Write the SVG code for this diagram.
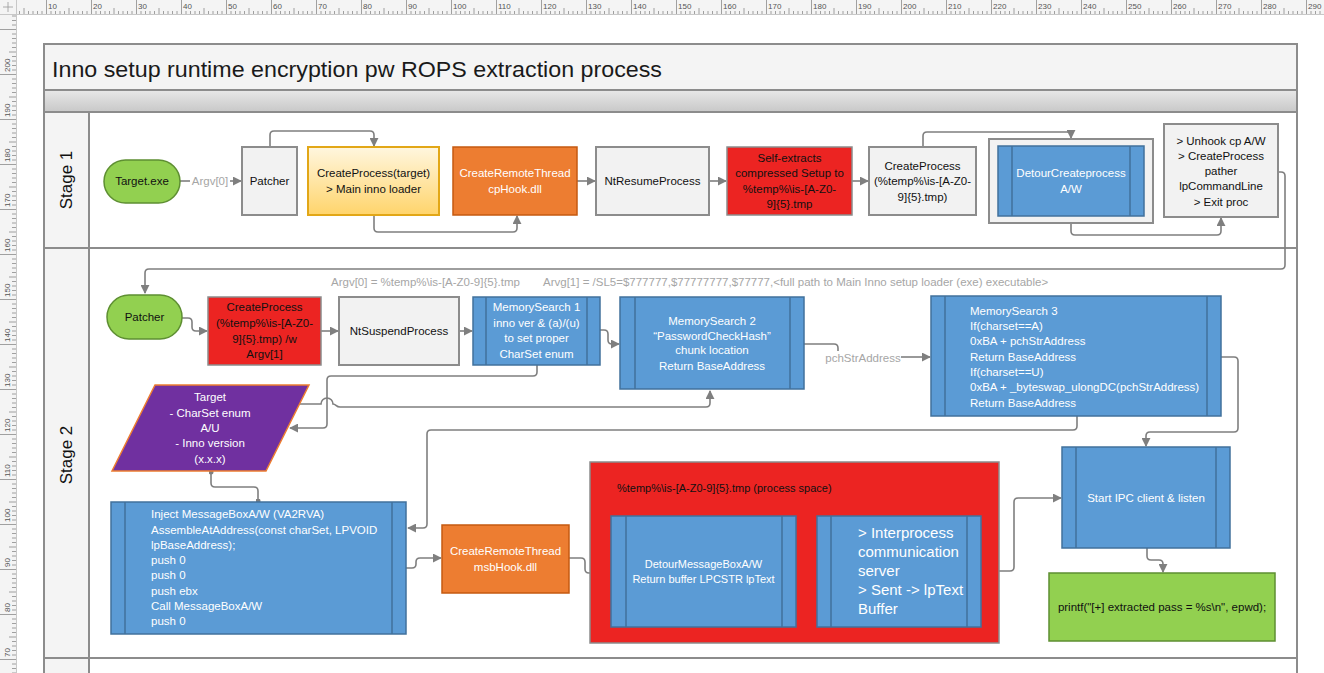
<svg xmlns="http://www.w3.org/2000/svg" width="1324" height="673" viewBox="0 0 1324 673">
<defs>
<style>
.t{font-family:"Liberation Sans",Arial,sans-serif;font-size:11.5px;}
.c{text-anchor:middle;}
.w{fill:#ffffff;}
.k{fill:#111111;}
.g{fill:#a6a6a6;}
.gray{fill:#f2f2f2;stroke:#8c8c8c;stroke-width:2;}
.blue{fill:#5b9bd5;stroke:#41719c;stroke-width:1.5;}
.inner{stroke:#41719c;stroke-width:1.5;fill:none;}
.orange{fill:#ed7d31;stroke:#c55a11;stroke-width:1.5;}
.red{fill:#ec2422;stroke:#8c8c8c;stroke-width:1.5;}
.green{fill:#92d050;stroke:#5e8f32;stroke-width:1.5;}
.lane{stroke:#8c8c8c;stroke-width:2;fill:none;}
.conn path{fill:none;stroke:#7f7f7f;stroke-width:1.6;}
.rl{font-family:"Liberation Sans",Arial,sans-serif;font-size:8px;fill:#555555;}
</style>
<marker id="ah" viewBox="0 0 10 10" refX="9" refY="5" markerWidth="9" markerHeight="9" markerUnits="userSpaceOnUse" orient="auto"><path d="M0,0 L10,5 L0,10 z" fill="#7f7f7f"/></marker>
<marker id="dot" viewBox="0 0 10 10" refX="5" refY="5" markerWidth="5" markerHeight="5" markerUnits="userSpaceOnUse"><circle cx="5" cy="5" r="5" fill="#7f7f7f"/></marker>
<linearGradient id="gold" x1="0" y1="0" x2="0" y2="1"><stop offset="0" stop-color="#fff6df"/><stop offset="1" stop-color="#ffd46b"/></linearGradient>
<linearGradient id="band" x1="0" y1="0" x2="0" y2="1"><stop offset="0" stop-color="#e8e8e8"/><stop offset="1" stop-color="#c8c8c8"/></linearGradient>
<pattern id="rtop" x="1" y="0" width="45" height="14" patternUnits="userSpaceOnUse"><path d="M0.5,0V14 M5,11V14 M9.5,11V14 M14,11V14 M18.5,11V14 M23,8V14 M27.5,11V14 M32,11V14 M36.5,11V14 M41,11V14" stroke="#8a8a8a" stroke-width="0.8"/></pattern>
<pattern id="rleft" x="0" y="29" width="16" height="45" patternUnits="userSpaceOnUse"><path d="M0,0.5H16 M12,5H16 M12,9.5H16 M12,14H16 M12,18.5H16 M9,23H16 M12,27.5H16 M12,32H16 M12,36.5H16 M12,41H16" stroke="#8a8a8a" stroke-width="0.8"/></pattern>
</defs>
<rect x="0" y="0" width="1324" height="673" fill="#ffffff"/>

<g id="rulers">
<rect x="0" y="0" width="1324" height="14" fill="#f4f4f4"/>
<rect x="16" y="0" width="1308" height="14" fill="url(#rtop)"/>
<rect x="0" y="14" width="16" height="659" fill="#f4f4f4"/>
<rect x="0" y="14" width="16" height="659" fill="url(#rleft)"/>
<line x1="0" y1="14.5" x2="1324" y2="14.5" stroke="#c8c8c8"/>
<line x1="16.5" y1="0" x2="16.5" y2="673" stroke="#c8c8c8"/>
<path d="M3,7H13 M8,2V12" stroke="#9a9a9a" stroke-width="0.8"/>
<g class="rl">
<text x="48" y="9">10</text><text x="93" y="9">20</text><text x="138" y="9">30</text><text x="183" y="9">40</text><text x="228" y="9">50</text><text x="273" y="9">60</text><text x="318" y="9">70</text><text x="363" y="9">80</text><text x="408" y="9">90</text><text x="453" y="9">100</text><text x="498" y="9">110</text><text x="543" y="9">120</text><text x="588" y="9">130</text><text x="633" y="9">140</text><text x="678" y="9">150</text><text x="723" y="9">160</text><text x="768" y="9">170</text><text x="813" y="9">180</text><text x="858" y="9">190</text><text x="903" y="9">200</text><text x="948" y="9">210</text><text x="993" y="9">220</text><text x="1038" y="9">230</text><text x="1083" y="9">240</text><text x="1128" y="9">250</text><text x="1173" y="9">260</text><text x="1218" y="9">270</text><text x="1263" y="9">280</text><text x="1308" y="9">290</text>
<text transform="translate(10,72) rotate(-90)">200</text><text transform="translate(10,117) rotate(-90)">190</text><text transform="translate(10,162) rotate(-90)">180</text><text transform="translate(10,207) rotate(-90)">170</text><text transform="translate(10,252) rotate(-90)">160</text><text transform="translate(10,297) rotate(-90)">150</text><text transform="translate(10,342) rotate(-90)">140</text><text transform="translate(10,387) rotate(-90)">130</text><text transform="translate(10,432) rotate(-90)">120</text><text transform="translate(10,477) rotate(-90)">110</text><text transform="translate(10,522) rotate(-90)">100</text><text transform="translate(10,567) rotate(-90)">90</text><text transform="translate(10,612) rotate(-90)">80</text><text transform="translate(10,657) rotate(-90)">70</text>
</g>
</g>

<g id="pool">
<rect x="44" y="44" width="1253" height="46" fill="#f4f4f4"/>
<rect x="44" y="90" width="1253" height="22" fill="url(#band)"/>
<rect x="44" y="112" width="45" height="561" fill="#f4f4f4"/>
<path class="lane" d="M44,673V44H1297V673 M44,90H1297 M44,112H1297 M44,248H1297 M44,658H1297 M89,112V673"/>
<text x="52" y="77" font-family="Liberation Sans, Arial, sans-serif" font-size="22" fill="#1a1a1a" textLength="610" lengthAdjust="spacingAndGlyphs">Inno setup runtime encryption pw ROPS extraction process</text>
<text class="t c k" transform="translate(72,180) rotate(-90)" font-size="17" style="font-size:17px">Stage 1</text>
<text class="t c k" transform="translate(72,455) rotate(-90)" style="font-size:17px">Stage 2</text>
</g>

<g id="connectors" class="conn">
<path d="M180,181H190"/>
<path d="M230,181H241" marker-end="url(#ah)"/>
<path d="M270,147V135q0,-4 4,-4H370q4,0 4,4V146" marker-end="url(#ah)"/>
<path d="M374,215V228q0,4 4,4H513q4,0 4,-4V216" marker-end="url(#ah)"/>
<path d="M577,181H595" marker-end="url(#ah)"/>
<path d="M709,181H726" marker-end="url(#ah)"/>
<path d="M852,181H868" marker-end="url(#ah)"/>
<path d="M923,147V136q0,-4 4,-4H1067q4,0 4,4V138" marker-end="url(#ah)"/>
<path d="M1071,216V231q0,4 4,4H1217q4,0 4,-4V218" marker-end="url(#ah)"/>
<path d="M1278,172H1281q4,0 4,4V265q0,4 -4,4H149q-4,0 -4,4V293" marker-end="url(#ah)"/>
<path d="M182,318H188q4,0 4,4V327q0,4 4,4H207" marker-end="url(#ah)"/>
<path d="M321,331H338" marker-end="url(#ah)"/>
<path d="M459,331H472" marker-end="url(#ah)"/>
<path d="M600,330H604q4,0 4,4V340q0,4 4,4H619" marker-end="url(#ah)"/>
<path d="M804,344H834q4,0 4,4V351"/>
<path d="M901,357H930" marker-end="url(#ah)"/>
<path d="M537,365V372q0,4 -4,4H331q-4,0 -4,4V424q0,4 -4,4H290" marker-end="url(#ah)"/>
<path d="M300,404H321a6,6 0 0 1 12,0C336,404 336,407 340,407H706q4,0 4,-4V391" marker-end="url(#ah)"/>
<path d="M1077,416V426q0,4 -4,4H431q-4,0 -4,4V524q0,4 -4,4H408" marker-end="url(#ah)"/>
<path d="M1221,357H1234q4,0 4,4V428q0,4 -4,4H1150q-4,0 -4,4V446" marker-end="url(#ah)"/>
<path d="M211,472V483q0,4 4,4H254q4,0 4,4V501" marker-start="url(#dot)" marker-end="url(#dot)"/>
<path d="M406,568H412q4,0 4,-4V562q0,-4 4,-4H441" marker-end="url(#ah)"/>
<path d="M569,558H581q4,0 4,4V569q0,4 4,4H610" marker-end="url(#ah)"/>
<path d="M796,572H816" marker-end="url(#ah)"/>
<path d="M981,571H1010q4,0 4,-4V502q0,-4 4,-4H1061" marker-end="url(#ah)"/>
<path d="M1147,548V556q0,4 4,4H1159q4,0 4,4V572" marker-end="url(#ah)"/>
</g>

<g id="edge-labels" class="t g">
<text x="210" y="185" class="c">Argv[0]</text>
<text x="331" y="286">Argv[0] = %temp%\is-[A-Z0-9]{5}.tmp</text>
<text x="543" y="286">Arvg[1] = /SL5=$777777,$77777777,$77777,&lt;full path to Main Inno setup loader (exe) executable&gt;</text>
<text x="863" y="362" class="c">pchStrAddress</text>
</g>

<g id="n-target-exe"><rect class="green" x="104" y="160" width="76" height="43" rx="21.5"/><text class="t c k" x="142" y="185">Target.exe</text></g>
<g id="n-patcher1"><rect class="gray" x="242" y="147" width="55" height="68"/><text class="t c k" x="269.5" y="185">Patcher</text></g>
<g id="n-createprocess-target"><rect x="308" y="147" width="131" height="68" fill="url(#gold)" stroke="#e2a717" stroke-width="2"/><text class="t c k" x="373.5" y="177">CreateProcess(target)</text><text class="t c k" x="373.5" y="193">&gt; Main inno loader</text></g>
<g id="n-crt-cphook"><rect class="orange" x="453" y="147" width="124" height="68"/><text class="t c w" x="515" y="177">CreateRemoteThread</text><text class="t c w" x="515" y="193">cpHook.dll</text></g>
<g id="n-ntresume"><rect class="gray" x="596" y="147" width="113" height="68"/><text class="t c k" x="652.5" y="185">NtResumeProcess</text></g>
<g id="n-selfextract"><rect class="red" x="727" y="147" width="125" height="68"/><text class="t c k" x="789.5" y="162">Self-extracts</text><text class="t c k" x="789.5" y="177">compressed Setup to</text><text class="t c k" x="789.5" y="193">%temp%\is-[A-Z0-</text><text class="t c k" x="789.5" y="208">9]{5}.tmp</text></g>
<g id="n-createprocess-tmp"><rect class="gray" x="869" y="147" width="107" height="68"/><text class="t c k" x="922.5" y="170">CreateProcess</text><text class="t c k" x="922.5" y="185">(%temp%\is-[A-Z0-</text><text class="t c k" x="922.5" y="201">9]{5}.tmp)</text></g>
<g id="n-detour-cp"><rect class="gray" x="989" y="139" width="164" height="84"/><rect class="blue" x="998" y="146" width="146" height="70"/><path class="inner" d="M1012,146V216 M1130,146V216"/><text class="t c w" x="1071" y="177">DetourCreateprocess</text><text class="t c w" x="1071" y="193">A/W</text></g>
<g id="n-unhook"><rect class="gray" x="1164" y="124" width="114" height="93"/><text class="t c k" x="1221" y="145">&gt; Unhook cp A/W</text><text class="t c k" x="1221" y="160">&gt; CreateProcess</text><text class="t c k" x="1221" y="175">pather</text><text class="t c k" x="1221" y="190">lpCommandLine</text><text class="t c k" x="1221" y="206">&gt; Exit proc</text></g>

<g id="n-patcher2"><rect class="green" x="107" y="295" width="75" height="44" rx="22"/><text class="t c k" x="144.5" y="321">Patcher</text></g>
<g id="n-createprocess-argv"><rect class="red" x="208" y="297" width="113" height="68"/><text class="t c k" x="264.5" y="311">CreateProcess</text><text class="t c k" x="264.5" y="327">(%temp%\is-[A-Z0-</text><text class="t c k" x="264.5" y="343">9]{5}.tmp) /w</text><text class="t c k" x="264.5" y="358">Argv[1]</text></g>
<g id="n-ntsuspend"><rect class="gray" x="339" y="297" width="120" height="68"/><text class="t c k" x="399" y="335">NtSuspendProcess</text></g>
<g id="n-memsearch1"><rect class="blue" x="473" y="297" width="127" height="68"/><path class="inner" d="M486,297V365 M587,297V365"/><text class="t c w" x="536.5" y="311">MemorySearch 1</text><text class="t c w" x="536.5" y="327">inno ver &amp; (a)/(u)</text><text class="t c w" x="536.5" y="342">to set proper</text><text class="t c w" x="536.5" y="358">CharSet enum</text></g>
<g id="n-memsearch2"><rect class="blue" x="620" y="297" width="184" height="92"/><path class="inner" d="M635,297V389 M790,297V389"/><text class="t c w" x="712" y="325">MemorySearch 2</text><text class="t c w" x="712" y="340">“PasswordCheckHash”</text><text class="t c w" x="712" y="354">chunk location</text><text class="t c w" x="712" y="370">Return BaseAddress</text></g>
<g id="n-memsearch3"><rect class="blue" x="931" y="296" width="290" height="120"/><path class="inner" d="M945,296V416 M1207,296V416"/><text class="t w" x="970" y="315">MemorySearch 3</text><text class="t w" x="970" y="330">If(charset==A)</text><text class="t w" x="970" y="345">0xBA + pchStrAddress</text><text class="t w" x="970" y="361">Return BaseAddress</text><text class="t w" x="970" y="376">If(charset==U)</text><text class="t w" x="970" y="391">0xBA + _byteswap_ulongDC(pchStrAddress)</text><text class="t w" x="970" y="407">Return BaseAddress</text></g>
<g id="n-target-data"><polygon points="155,385 309,385 266,471 112,471" fill="#7030a0" stroke="#ed7d31" stroke-width="1.5"/><text class="t c w" x="210" y="401">Target</text><text class="t c w" x="210" y="417">- CharSet enum</text><text class="t c w" x="210" y="432">A/U</text><text class="t c w" x="210" y="447">- Inno version</text><text class="t c w" x="210" y="463">(x.x.x)</text></g>
<g id="n-inject"><rect class="blue" x="111" y="502" width="295" height="132"/><path class="inner" d="M125,502V634 M392,502V634"/><text class="t w" x="151" y="518">Inject MessageBoxA/W (VA2RVA)</text><text class="t w" x="151" y="534">AssembleAtAddress(const charSet, LPVOID</text><text class="t w" x="151" y="549">lpBaseAddress);</text><text class="t w" x="151" y="564">push 0</text><text class="t w" x="151" y="579">push 0</text><text class="t w" x="151" y="595">push ebx</text><text class="t w" x="151" y="610">Call MessageBoxA/W</text><text class="t w" x="151" y="625">push 0</text></g>
<g id="n-crt-msbhook"><rect class="orange" x="442" y="525" width="127" height="68"/><text class="t c w" x="505.5" y="555">CreateRemoteThread</text><text class="t c w" x="505.5" y="571">msbHook.dll</text></g>
<g id="n-process-space"><rect class="red" x="590" y="462" width="409" height="181"/><text class="t k" x="617" y="492" style="font-size:11px">%temp%\is-[A-Z0-9]{5}.tmp (process space)</text></g>
<g id="n-detour-mb"><rect class="blue" x="611" y="516" width="185" height="111"/><path class="inner" d="M626,516V627 M782,516V627"/><text class="t c w" x="703.5" y="568" style="font-size:11px">DetourMessageBoxA/W</text><text class="t c w" x="703.5" y="583" style="font-size:11px">Return buffer LPCSTR lpText</text></g>
<g id="n-ipc-server"><rect class="blue" x="817" y="516" width="164" height="111"/><path class="inner" d="M831,516V627 M967,516V627"/><g class="t w" style="font-size:15px"><text x="858" y="538">&gt; Interprocess</text><text x="858" y="557">communication</text><text x="858" y="576">server</text><text x="858" y="595">&gt; Sent -&gt; lpText</text><text x="858" y="614">Buffer</text></g></g>
<g id="n-ipc-client"><rect class="blue" x="1062" y="447" width="168" height="101"/><path class="inner" d="M1076,447V548 M1216,447V548"/><text class="t c w" x="1146" y="502">Start IPC client &amp; listen</text></g>
<g id="n-printf"><rect class="green" x="1049" y="573" width="226" height="68"/><text class="t c k" x="1162" y="611">printf("[+] extracted pass = %s\n", epwd);</text></g>
</svg>
